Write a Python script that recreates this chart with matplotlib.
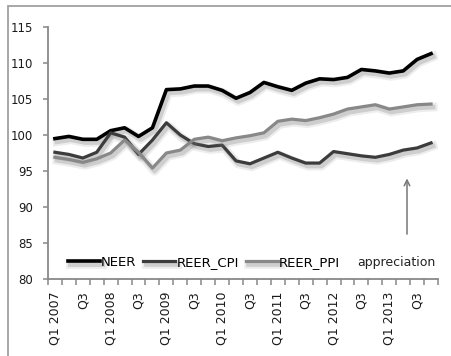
import numpy as np
import matplotlib
matplotlib.use("Agg")
import matplotlib.pyplot as plt
import matplotlib.patheffects as pe
from matplotlib.patches import Rectangle

# quarterly effective exchange rate indices, Q1 2007 .. Q4 2013
neer = [99.5, 99.8, 99.4, 99.4, 100.6, 101.0, 99.8, 101.0,
        106.3, 106.4, 106.8, 106.8, 106.2, 105.1, 105.9, 107.3,
        106.7, 106.2, 107.2, 107.8, 107.7, 108.0, 109.1, 108.9,
        108.6, 108.9, 110.5, 111.3]
reer_cpi = [97.6, 97.3, 96.8, 97.6, 100.3, 99.7, 97.3, 99.3,
            101.7, 100.0, 98.8, 98.4, 98.6, 96.4, 96.0, 96.8,
            97.6, 96.8, 96.1, 96.1, 97.7, 97.4, 97.1, 96.9,
            97.3, 97.9, 98.2, 98.9]
reer_ppi = [96.9, 96.6, 96.2, 96.7, 97.5, 99.3, 97.6, 95.4,
            97.5, 97.9, 99.4, 99.7, 99.2, 99.6, 99.9, 100.3,
            101.9, 102.2, 102.0, 102.4, 102.9, 103.6, 103.9, 104.2,
            103.6, 103.9, 104.2, 104.3]
tick_labels = ["Q1 2007", "Q3", "Q1 2008", "Q3", "Q1 2009", "Q3",
               "Q1 2010", "Q3", "Q1 2011", "Q3", "Q1 2012", "Q3",
               "Q1 2013", "Q3"]

series = [("NEER", neer, "#000000", 2.6),
          ("REER_CPI", reer_cpi, "#3c3c3c", 2.3),
          ("REER_PPI", reer_ppi, "#888888", 2.3)]

fig = plt.figure(figsize=(4.51, 3.56), dpi=100)
ax = fig.add_axes([0.1064, 0.2163, 0.8648, 0.7079])

x = np.arange(len(neer))
for name, vals, color, lw in series:
    shadow = [pe.SimpleLineShadow(offset=(1.5, -2.2), shadow_color="0.45",
                                  alpha=0.12, linewidth=lw + 4),
              pe.SimpleLineShadow(offset=(1.5, -2.2), shadow_color="0.45",
                                  alpha=0.25, linewidth=lw + 1),
              pe.Normal()]
    ax.plot(x, vals, color=color, lw=lw, label=name,
            solid_joinstyle="round", path_effects=shadow)

ax.set_xlim(-0.5, len(neer) - 0.5)
ax.set_ylim(80, 115)
ax.set_yticks(np.arange(80, 116, 5))

ax.set_xticks(x[::2])
ax.set_xticklabels(tick_labels, rotation=90)
ax.set_xticks(np.arange(-0.5, len(neer), 1), minor=True)
ax.tick_params(axis="x", which="major", length=0, pad=9, labelsize=9,
               labelcolor="#1a1a1a")
ax.tick_params(axis="x", which="minor", length=4.5, width=1.1, color="#888888")
ax.tick_params(axis="y", length=3.5, width=1.1, color="#888888", pad=7,
               labelsize=8.5, labelcolor="#1a1a1a")

for side in ["top", "right"]:
    ax.spines[side].set_visible(False)
for side in ["left", "bottom"]:
    ax.spines[side].set_color("#888888")
    ax.spines[side].set_linewidth(1.3)

ax.legend(loc="center left", bbox_to_anchor=(0.051, 0.067), ncol=3,
          frameon=False, fontsize=9.5, handlelength=2.4, handletextpad=0.1,
          columnspacing=0.55, borderpad=0, borderaxespad=0)

ax.text(0.792, 0.067, "appreciation", transform=ax.transAxes, fontsize=9,
        ha="left", va="center", color="#222222")
ax.annotate("", xy=(0.9205, 0.41), xytext=(0.9205, 0.167),
            xycoords="axes fraction",
            arrowprops=dict(arrowstyle="->", color="#777777", lw=1.1))

# outer frame around the chart
fig.patches.append(Rectangle((8 / 451, -0.1), 1.2, 1.1 - 6 / 356,
                             transform=fig.transFigure, fill=False,
                             edgecolor="#a0a0a0", linewidth=1.3))

fig.savefig("out.png", dpi=100)
